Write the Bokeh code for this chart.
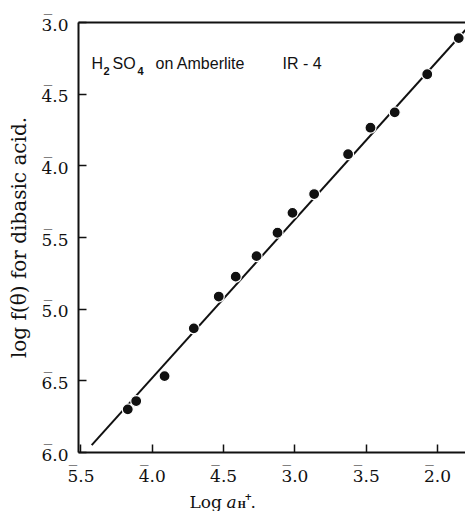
from bokeh.plotting import figure
from bokeh.layouts import column
from bokeh.models import Label, LinearAxis, FixedTicker, Range1d
from bokeh.embed import file_html
from bokeh.resources import INLINE

# ---- data (log a_H+ , log f(theta)), bar-notation values expressed as signed logs
x_vals = [-4.172, -4.113, -3.914, -3.709, -3.534, -3.415, -3.269, -3.122,
          -3.017, -2.865, -2.627, -2.470, -2.300, -2.072, -1.851]
y_vals = [-5.699, -5.641, -5.467, -5.134, -4.912, -4.773, -4.630, -4.467,
          -4.328, -4.197, -3.919, -3.734, -3.627, -3.361, -3.109]
fit_x = [-4.425, -1.804]
fit_y = [-5.949, -3.052]

# tick labels in bar notation: the characteristic (first digit) carries a bar
x_ticks = [-4.5, -4.0, -3.5, -3.0, -2.5, -2.0]
x_tick_labels = ["5.5", "4.0", "4.5", "3.0", "3.5", "2.0"]
y_ticks = [-6.0, -5.5, -5.0, -4.5, -4.0, -3.5, -3.0]
y_tick_labels = ["6.0", "6.5", "5.0", "5.5", "4.0", "4.5", "3.0"]

INK = "#111111"
SERIF = "DejaVu Serif"
SANS = "Liberation Sans"
BAR = "\u203e" + "\u00a0" * 3 + "\n"   # bar line sitting over the first digit

X0, X1 = -4.5175, -1.8036
Y0, Y1 = -6.0, -3.0
W = 465
FL, FR, FT, FB = 78, 465, 22, 454   # frame edges in page pixels
DY = 4                               # label baseline correction (px)

p = figure(width=W, height=488, x_range=Range1d(X0, X1), y_range=Range1d(Y0, Y1),
           output_backend="svg", toolbar_location=None, title=None,
           min_border_left=FL, min_border_right=W - FR, min_border_top=FT,
           min_border_bottom=488 - FB)
p.outline_line_color = None
p.grid.grid_line_color = None

def px2x(px):
    return X0 + (px - FL) * (X1 - X0) / (FR - FL)

def py2y(py):
    return Y1 - (py - DY - FT) * (Y1 - Y0) / (FB - FT)

for ax in (p.xaxis[0], p.yaxis[0]):
    ax.axis_line_width = 2
    ax.axis_line_color = INK
    ax.major_tick_in = 8
    ax.major_tick_out = 0
    ax.major_tick_line_width = 1.5
    ax.major_tick_line_color = INK
    ax.minor_tick_line_color = None
    ax.major_label_text_font = SERIF
    ax.major_label_text_font_size = "17px"
    ax.major_label_text_color = INK
    ax.major_label_text_line_height = 0.2

p.xaxis.ticker = FixedTicker(ticks=x_ticks)
p.xaxis.major_label_overrides = {t: BAR + s for t, s in zip(x_ticks, x_tick_labels)}
p.xaxis.major_label_standoff = 9

p.yaxis.ticker = FixedTicker(ticks=y_ticks)
p.yaxis.major_label_overrides = {t: BAR + s for t, s in zip(y_ticks, y_tick_labels)}
p.yaxis.major_label_standoff = 10
p.yaxis.axis_label = "log f(\u03b8) for dibasic acid."
p.yaxis.axis_label_text_font = SERIF
p.yaxis.axis_label_text_font_size = "20px"
p.yaxis.axis_label_text_font_style = "normal"
p.yaxis.axis_label_text_color = INK
p.yaxis.axis_label_standoff = 7

top = LinearAxis(ticker=FixedTicker(ticks=[]), axis_line_width=2, axis_line_color=INK,
                 major_tick_line_color=None, minor_tick_line_color=None,
                 major_label_text_font_size="0px")
p.add_layout(top, "above")

p.line(fit_x, fit_y, line_color=INK, line_width=2)
p.scatter(x_vals, y_vals, size=11, fill_color=INK, line_color="white", line_width=1.2)

def lab(fig, yconv, text, px, py, size, font=SANS, style="normal"):
    fig.add_layout(Label(x=px2x(px), y=yconv(py), text=text, text_font=font,
                         text_font_size=size, text_font_style=style, text_color=INK,
                         text_align="left", text_baseline="alphabetic"))

# in-plot title
lab(p, py2y, "H", 91, 67, "16px")
lab(p, py2y, "2", 103, 75, "11px", style="bold")
lab(p, py2y, "SO", 112, 67, "16px")
lab(p, py2y, "4", 137, 75, "11px", style="bold")
lab(p, py2y, "on Amberlite", 155, 67, "16px")
lab(p, py2y, "IR\u00a0-\u00a04", 282, 67, "16px")

# strip below the axis that carries the x axis label: Log a_H+.
LT, LB = 488, 511
q = figure(width=W, height=LB - LT, x_range=p.x_range, y_range=Range1d(0, 1),
           output_backend="svg", toolbar_location=None, title=None,
           x_axis_location=None, y_axis_location=None,
           min_border_left=FL, min_border_right=W - FR, min_border_top=0, min_border_bottom=0)
q.outline_line_color = None
q.grid.grid_line_color = None

def qy(py):
    return (LB - (py - DY)) / (LB - LT)

lab(q, qy, "Log", 189, 505, "17px", font=SERIF)
lab(q, qy, "a", 226, 505, "17px", font=SERIF, style="italic")
lab(q, qy, "H", 237, 508, "9px", font=SERIF, style="bold")
lab(q, qy, "+", 244, 500, "9px", font=SERIF, style="bold")
lab(q, qy, ".", 250, 505, "17px", font=SERIF)

layout = column(p, q, spacing=0)
open("out.html", "w").write(file_html(layout, INLINE))
